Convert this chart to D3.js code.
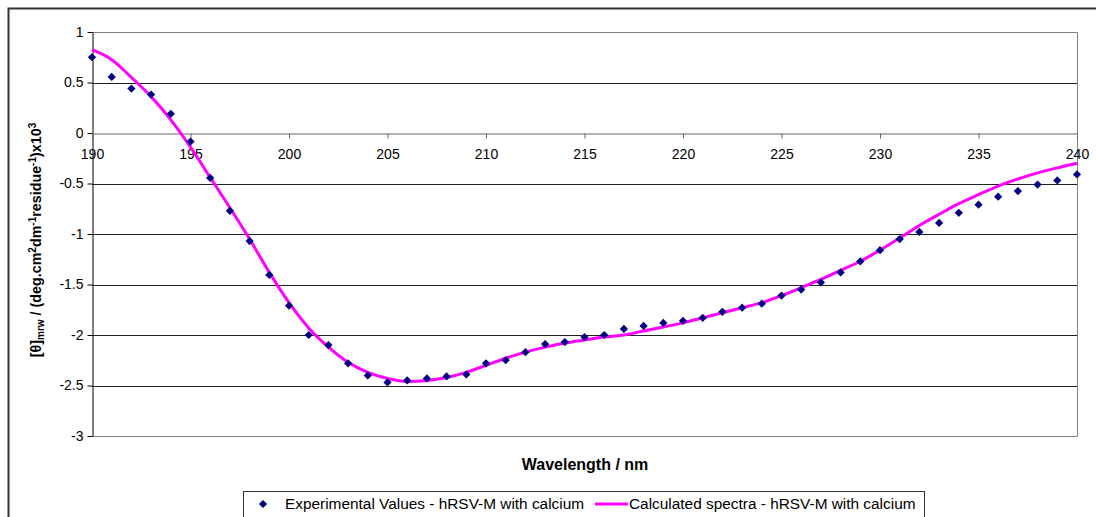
<!DOCTYPE html>
<html>
<head>
<meta charset="utf-8">
<script src="https://cdn.jsdelivr.net/npm/d3@7"></script>
<style>
  body { margin: 0; background: #fff; }
  svg { font-family: "Liberation Sans", Arial, sans-serif; }
</style>
</head>
<body>
<svg id="chart" width="1096" height="517"></svg>
<script>
// wavelengths (nm)
const wavelengths = d3.range(190, 241);

// experimental CD values, x10^3
const experimental = [
  0.75, 0.555, 0.44, 0.38, 0.19, -0.085, -0.445, -0.77, -1.07, -1.405,
  -1.71, -2.0, -2.1, -2.28, -2.4, -2.47, -2.45, -2.43, -2.41, -2.39,
  -2.28, -2.25, -2.17, -2.09, -2.07, -2.02, -2.0, -1.94, -1.91, -1.88,
  -1.86, -1.83, -1.77, -1.73, -1.69, -1.61, -1.55, -1.48, -1.38, -1.27,
  -1.16, -1.05, -0.98, -0.89, -0.79, -0.71, -0.63, -0.575, -0.51, -0.47,
  -0.41
];

// calculated spectra values, x10^3
const calculated = [
  0.825, 0.726, 0.55, 0.36, 0.13, -0.14, -0.44, -0.74, -1.05, -1.38,
  -1.68, -1.93, -2.12, -2.27, -2.37, -2.43, -2.46, -2.45, -2.42, -2.37,
  -2.3, -2.23, -2.17, -2.12, -2.08, -2.05, -2.02, -2.0, -1.96, -1.92,
  -1.88, -1.83, -1.78, -1.73, -1.68, -1.61, -1.53, -1.45, -1.36, -1.27,
  -1.16, -1.04, -0.915, -0.805, -0.7, -0.61, -0.525, -0.455, -0.395, -0.345,
  -0.3
];

const xTicks = [190, 195, 200, 205, 210, 215, 220, 225, 230, 235, 240];
const yTicks = [1, 0.5, 0, -0.5, -1, -1.5, -2, -2.5, -3];

const svg = d3.select('#chart');
const plot = {left: 92, right: 1077, top: 32, bottom: 436};

const x = d3.scaleLinear().domain([190, 240]).range([plot.left, plot.right]);
const y = d3.scaleLinear().domain([-3, 1]).range([plot.bottom, plot.top]);

// outer chart border
svg.append('rect')
  .attr('x', 8.5).attr('y', 8.5)
  .attr('width', 1100).attr('height', 520)
  .attr('fill', 'none')
  .attr('stroke', '#333').attr('stroke-width', 2);

// gridlines
svg.append('g')
  .selectAll('line')
  .data(yTicks.filter(d => d !== 0 && d !== -3))
  .enter().append('line')
  .attr('x1', plot.left).attr('x2', plot.right)
  .attr('y1', d => Math.round(y(d)) + 0.5).attr('y2', d => Math.round(y(d)) + 0.5)
  .attr('stroke', '#222');

// plot area border (top, right, bottom)
svg.append('path')
  .attr('d', `M${plot.left},${plot.top + 0.5}H${plot.right + 0.5}V${plot.bottom + 0.5}H${plot.left}`)
  .attr('fill', 'none')
  .attr('stroke', '#808080');

// y axis
const yAxis = svg.append('g')
  .attr('transform', `translate(${plot.left + 0.5},0)`)
  .call(d3.axisLeft(y).tickValues(yTicks).tickSize(5).tickSizeOuter(0)
    .tickFormat(d => String(d)));
yAxis.select('.domain').attr('stroke', '#000');
yAxis.selectAll('.tick line').attr('stroke', '#000');
yAxis.selectAll('text')
  .attr('font-size', 14).attr('fill', '#000')
  .attr('font-family', '"Liberation Sans", Arial, sans-serif')
  .attr('x', -9);

// x axis crossing at zero
const xAxis = svg.append('g')
  .attr('transform', `translate(0,${Math.round(y(0)) + 0.5})`)
  .call(d3.axisBottom(x).tickValues(xTicks).tickSize(5).tickSizeOuter(0));
xAxis.select('.domain').attr('stroke', '#666');
xAxis.selectAll('.tick line').attr('stroke', '#666');
xAxis.selectAll('text')
  .attr('font-size', 14).attr('fill', '#000')
  .attr('font-family', '"Liberation Sans", Arial, sans-serif')
  .attr('y', 16);

// calculated spectra line
const line = d3.line()
  .x((d, i) => x(wavelengths[i]))
  .y(d => y(d))
  .curve(d3.curveMonotoneX);

svg.append('path')
  .datum(calculated)
  .attr('d', line)
  .attr('fill', 'none')
  .attr('stroke', '#ff00ff')
  .attr('stroke-width', 3);

// experimental diamonds (square turned 45 degrees)
const diamond = d3.symbol().type(d3.symbolSquare).size(34);
svg.append('g')
  .selectAll('path')
  .data(experimental)
  .enter().append('path')
  .attr('d', diamond)
  .attr('transform', (d, i) => `translate(${x(wavelengths[i])},${y(d)}) rotate(45)`)
  .attr('fill', '#000080');

// axis titles
svg.append('text')
  .attr('x', 585).attr('y', 470)
  .attr('text-anchor', 'middle')
  .attr('font-size', 16).attr('font-weight', 'bold')
  .text('Wavelength / nm');

const yTitle = svg.append('text')
  .attr('transform', 'translate(41,240) rotate(-90)')
  .attr('text-anchor', 'middle')
  .attr('font-size', 14.3).attr('font-weight', 'bold');
yTitle.append('tspan').text('[θ]');
yTitle.append('tspan').attr('font-size', 10).attr('dy', 3).text('mrw');
yTitle.append('tspan').attr('dy', -3).text(' / (deg.cm');
yTitle.append('tspan').attr('font-size', 10).attr('dy', -5).text('2');
yTitle.append('tspan').attr('dy', 5).text('dm');
yTitle.append('tspan').attr('font-size', 10).attr('dy', -5).text('-1');
yTitle.append('tspan').attr('dy', 5).text('residue');
yTitle.append('tspan').attr('font-size', 10).attr('dy', -5).text('-1');
yTitle.append('tspan').attr('dy', 5).text(')x10');
yTitle.append('tspan').attr('font-size', 10).attr('dy', -5).text('3');

// legend
const legend = svg.append('g');
legend.append('rect')
  .attr('x', 243.5).attr('y', 491.5)
  .attr('width', 681).attr('height', 40)
  .attr('fill', '#fff')
  .attr('stroke', '#333');
legend.append('path')
  .attr('d', diamond)
  .attr('transform', 'translate(263,504) rotate(45)')
  .attr('fill', '#000080');
legend.append('text')
  .attr('x', 285).attr('y', 509)
  .attr('font-size', 15.4)
  .text('Experimental Values - hRSV-M with calcium');
legend.append('line')
  .attr('x1', 595).attr('x2', 628)
  .attr('y1', 504).attr('y2', 504)
  .attr('stroke', '#ff00ff').attr('stroke-width', 3);
legend.append('text')
  .attr('x', 629).attr('y', 509)
  .attr('font-size', 15.4)
  .text('Calculated spectra - hRSV-M with calcium');
</script>
</body>
</html>
